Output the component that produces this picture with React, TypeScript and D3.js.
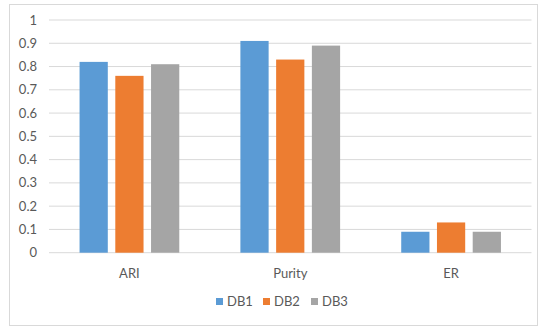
import React from "react";
import * as d3 from "d3";

const categories = ["ARI", "Purity", "ER"];
const seriesNames = ["DB1", "DB2", "DB3"];
const db1 = [0.82, 0.91, 0.09];
const db2 = [0.76, 0.83, 0.13];
const db3 = [0.81, 0.89, 0.09];
const yTicks = [0, 0.1, 0.2, 0.3, 0.4, 0.5, 0.6, 0.7, 0.8, 0.9, 1];
const yTickLabels = ["0", "0.1", "0.2", "0.3", "0.4", "0.5", "0.6", "0.7", "0.8", "0.9", "1"];

const colors = ["#5B9BD5", "#ED7D31", "#A5A5A5"];
const W = 539;
const H = 327;
const plot = { left: 49, right: 531.5, top: 20, bottom: 252.7 };
const textColor = "#595959";
const font = "Lato, 'Open Sans', sans-serif";
const fontSize = 13;

export default function App() {
  const series = [db1, db2, db3];
  const x = d3.scaleBand<string>().domain(categories).range([plot.left, plot.right]).paddingInner(0).paddingOuter(0);
  const y = d3.scaleLinear().domain([0, 1]).range([plot.bottom, plot.top]);
  const groupWidth = x.bandwidth() * 0.62;
  const inner = d3.scaleBand<string>().domain(seriesNames).range([0, groupWidth]).paddingInner(0.21);

  const legendX = [216, 263, 311];

  return (
    <svg width={W} height={H} style={{ position: "absolute", left: 0, top: 0, background: "#fff" }}>
      <rect x={9.5} y={4.5} width={528} height={321} fill="#fff" stroke="#d9d9d9" strokeWidth={1} />
      {yTicks.map((t, i) => (
        <g key={t}>
          <line x1={plot.left} x2={plot.right} y1={y(t)} y2={y(t)} stroke="#d9d9d9" strokeWidth={1} />
          <text x={37} y={y(t)} dy="0.35em" textAnchor="end" fontFamily={font} fontSize={fontSize} fill={textColor}>
            {yTickLabels[i]}
          </text>
        </g>
      ))}
      {categories.map((c, ci) => {
        const gx = (x(c) as number) + (x.bandwidth() - groupWidth) / 2;
        return (
          <g key={c}>
            {series.map((s, si) => (
              <rect
                key={si}
                x={gx + (inner(seriesNames[si]) as number)}
                y={y(s[ci])}
                width={inner.bandwidth()}
                height={plot.bottom - y(s[ci])}
                fill={colors[si]}
              />
            ))}
            <text x={(x(c) as number) + x.bandwidth() / 2} y={273} dy="0.35em" textAnchor="middle" fontFamily={font} fontSize={fontSize} fill={textColor}>
              {c}
            </text>
          </g>
        );
      })}
      {seriesNames.map((n, i) => (
        <g key={n}>
          <rect x={legendX[i]} y={298} width={7} height={7} fill={colors[i]} />
          <text x={legendX[i] + 11} y={301.7} dy="0.35em" fontFamily={font} fontSize={fontSize} fill={textColor}>
            {n}
          </text>
        </g>
      ))}
    </svg>
  );
}
